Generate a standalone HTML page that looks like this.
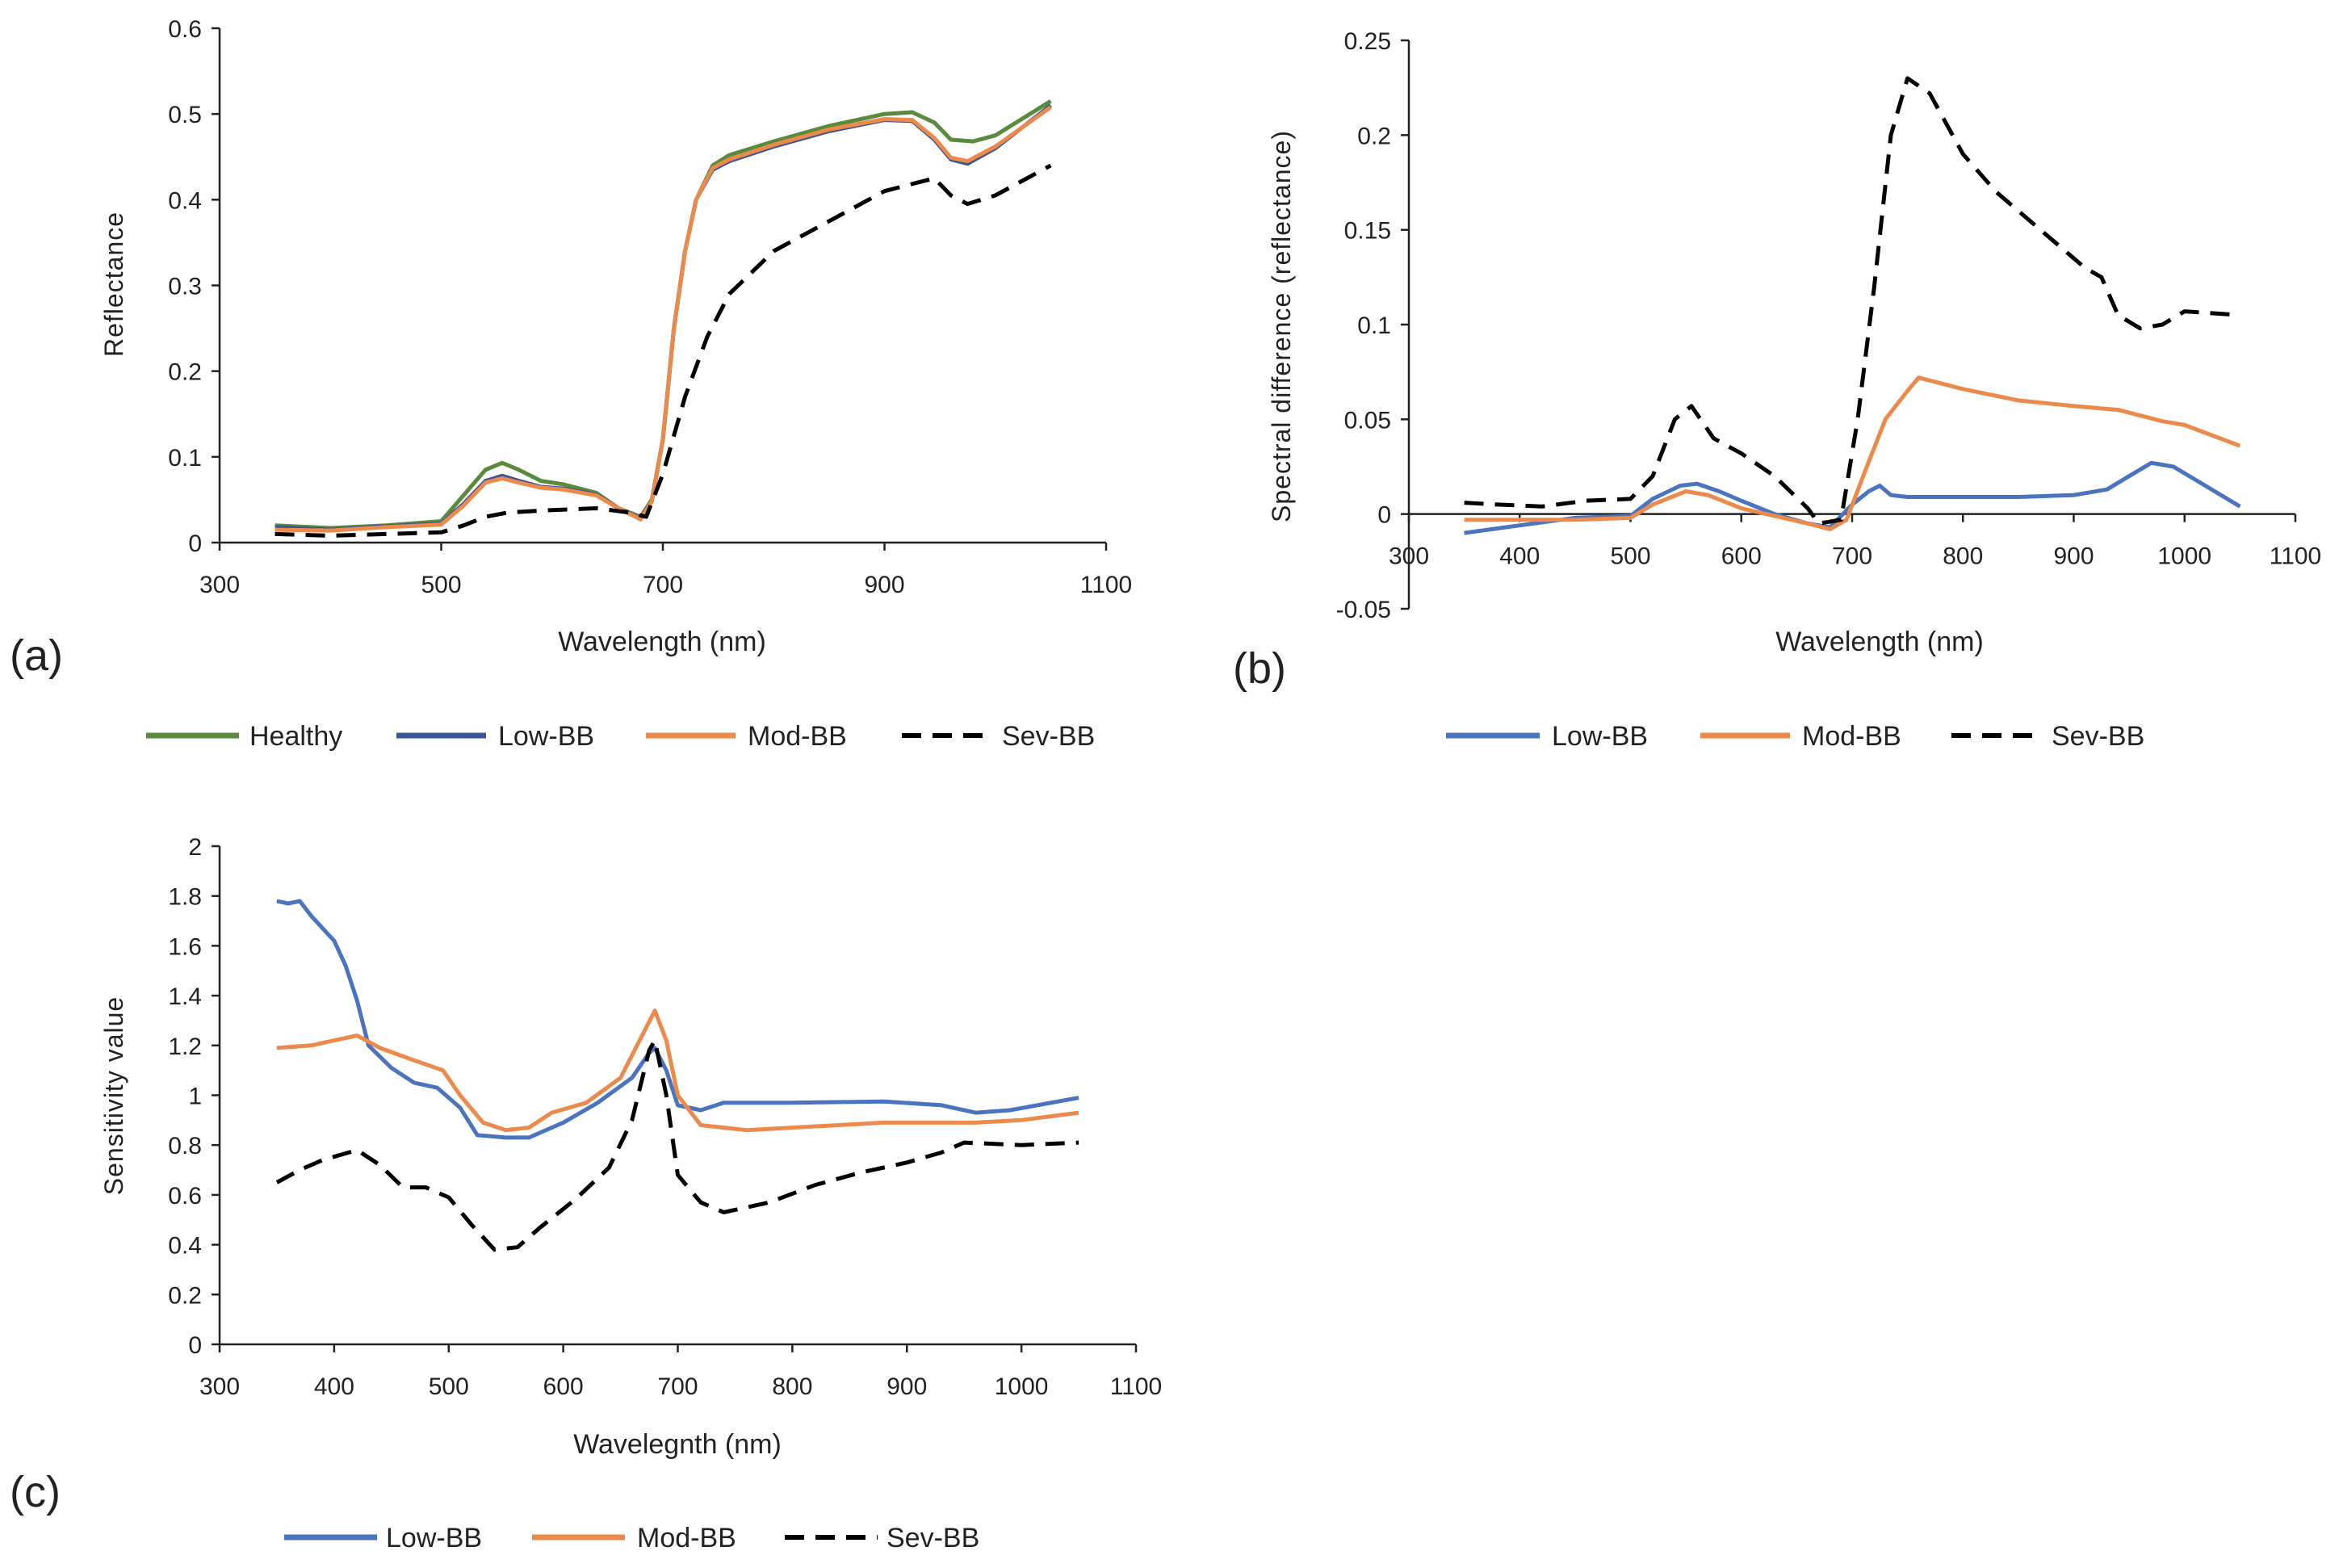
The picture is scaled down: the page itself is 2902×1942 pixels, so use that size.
<!DOCTYPE html>
<html><head><meta charset="utf-8">
<style>
html,body{margin:0;padding:0;background:#fff;}
svg{display:block;}
text{font-family:"Liberation Sans Narrow","Liberation Sans",sans-serif;fill:#222;}
</style></head>
<body>
<svg id="fig" width="2902" height="1942" viewBox="0 0 2902 1942" xmlns="http://www.w3.org/2000/svg"></svg>
<script>
// ---------- Panel (a) data ----------
const aHealthyX=[350,400,450,500,520,540,555,570,590,610,640,660,680,690,700,710,720,730,745,760,800,850,900,925,945,960,980,1000,1050];
const aHealthyY=[0.02,0.017,0.02,0.025,0.055,0.085,0.093,0.085,0.072,0.068,0.058,0.04,0.03,0.05,0.12,0.25,0.34,0.40,0.44,0.452,0.468,0.486,0.5,0.502,0.49,0.47,0.468,0.475,0.515];
const aLowX=[350,400,450,500,520,540,555,570,590,610,640,660,680,690,700,710,720,730,745,760,800,850,900,925,945,960,975,1000,1050];
const aLowY=[0.018,0.015,0.019,0.022,0.045,0.072,0.078,0.072,0.065,0.063,0.056,0.04,0.028,0.048,0.12,0.25,0.34,0.40,0.435,0.445,0.462,0.48,0.493,0.492,0.47,0.447,0.442,0.46,0.51];
const aModX=[350,400,450,500,520,540,555,570,590,610,640,660,680,690,700,710,720,730,745,760,800,850,900,925,945,960,975,1000,1050];
const aModY=[0.015,0.014,0.018,0.021,0.043,0.07,0.075,0.07,0.064,0.062,0.055,0.04,0.027,0.048,0.12,0.25,0.34,0.40,0.437,0.447,0.464,0.482,0.494,0.493,0.472,0.449,0.445,0.462,0.508];
const aSevX=[350,400,450,500,520,540,560,600,640,670,685,700,720,740,760,800,850,900,930,945,960,975,1000,1050];
const aSevY=[0.01,0.008,0.01,0.012,0.02,0.03,0.035,0.038,0.04,0.035,0.03,0.08,0.17,0.24,0.29,0.34,0.375,0.41,0.42,0.425,0.405,0.395,0.405,0.44];
const aYTicks=["0","0.1","0.2","0.3","0.4","0.5","0.6"];
const aXTicks=["300","500","700","900","1100"];

// ---------- Panel (b) data ----------
const bLowX=[350,400,450,500,520,545,560,580,600,630,660,680,700,715,725,735,750,800,850,900,930,950,970,990,1010,1050];
const bLowY=[-0.01,-0.006,-0.002,-0.001,0.008,0.015,0.016,0.012,0.007,0.0,-0.005,-0.007,0.005,0.012,0.015,0.01,0.009,0.009,0.009,0.01,0.013,0.02,0.027,0.025,0.018,0.004];
const bModX=[350,450,500,520,550,570,600,630,660,680,695,710,730,750,760,800,850,900,940,980,1000,1050];
const bModY=[-0.003,-0.003,-0.002,0.005,0.012,0.01,0.003,-0.001,-0.005,-0.008,-0.003,0.02,0.05,0.065,0.072,0.066,0.06,0.057,0.055,0.049,0.047,0.036];
const bSevX=[350,380,420,460,500,520,540,555,575,600,630,660,670,690,705,720,735,750,770,800,830,870,910,925,940,960,980,1000,1050];
const bSevY=[0.006,0.005,0.004,0.007,0.008,0.02,0.05,0.057,0.04,0.032,0.02,0.003,-0.005,-0.003,0.05,0.12,0.2,0.23,0.222,0.19,0.17,0.15,0.13,0.125,0.105,0.098,0.1,0.107,0.105];
const bYTicks=["-0.05","0","0.05","0.1","0.15","0.2","0.25"];
const bXTicks=["300","400","500","600","700","800","900","1000","1100"];

// ---------- Panel (c) data ----------
const cLowX=[350,360,370,380,390,400,410,420,430,450,470,490,510,525,550,570,600,630,660,675,680,690,700,720,740,800,880,930,960,990,1050];
const cLowY=[1.78,1.77,1.78,1.72,1.67,1.62,1.52,1.38,1.2,1.11,1.05,1.03,0.95,0.84,0.83,0.83,0.89,0.97,1.07,1.17,1.19,1.1,0.96,0.94,0.97,0.97,0.975,0.96,0.93,0.94,0.99];
const cModX=[350,380,400,420,440,470,495,510,530,550,570,590,620,650,670,680,690,700,720,760,800,880,960,1000,1050];
const cModY=[1.19,1.2,1.22,1.24,1.19,1.14,1.1,1.0,0.89,0.86,0.87,0.93,0.97,1.07,1.25,1.34,1.22,1.0,0.88,0.86,0.87,0.89,0.89,0.9,0.93];
const cSevX=[350,370,390,420,440,460,480,500,520,540,560,580,610,640,660,675,680,690,700,720,740,780,820,860,900,930,950,1000,1050];
const cSevY=[0.65,0.7,0.74,0.78,0.72,0.63,0.63,0.59,0.48,0.38,0.39,0.47,0.58,0.71,0.9,1.18,1.22,1.0,0.68,0.57,0.53,0.57,0.64,0.69,0.73,0.77,0.81,0.8,0.81];
const cYTicks=["0","0.2","0.4","0.6","0.8","1","1.2","1.4","1.6","1.8","2"];
const cXTicks=["300","400","500","600","700","800","900","1000","1100"];

const NS="http://www.w3.org/2000/svg";
const svg=document.getElementById('fig');
function mk(tag,attrs,parent){const e=document.createElementNS(NS,tag);for(const k in attrs)e.setAttribute(k,attrs[k]);(parent||svg).appendChild(e);return e;}
function txt(s,attrs,parent){const e=mk('text',attrs,parent);e.textContent=s;return e;}

function panel(cfg){
  const g=mk('g',{});
  
  
  const sx=v=>cfg.x0+(v-cfg.xmin)/(cfg.xmax-cfg.xmin)*(cfg.x1-cfg.x0);
  const sy=v=>cfg.y0-(v-cfg.ymin)/(cfg.ymax-cfg.ymin)*(cfg.y0-cfg.y1);
  const zeroY=sy(0);
  // y axis
  const ya=mk('line',{x1:cfg.x0,y1:cfg.y0,x2:cfg.x0,y2:cfg.y1,stroke:'#222','stroke-width':2.5},g);
  
  
  cfg.yTicks.forEach(t=>{
    const v=parseFloat(t),y=sy(v);
    mk('line',{x1:cfg.x0-10,y1:y,x2:cfg.x0,y2:y,stroke:'#222','stroke-width':2.5},g);
    const l=txt(t,{x:cfg.x0-22,y:y+11,'text-anchor':'end','font-size':30},g);
    
    
  });
  // x axis at zero
  const xa=mk('line',{x1:cfg.x0,y1:zeroY,x2:cfg.x1,y2:zeroY,stroke:'#222','stroke-width':2.5},g);
  
  
  cfg.xTicks.forEach(t=>{
    const v=parseFloat(t),x=sx(v);
    mk('line',{x1:x,y1:zeroY,x2:x,y2:zeroY+10,stroke:'#222','stroke-width':2.5},g);
    const l=txt(t,{x:x,y:zeroY+62,'text-anchor':'middle','font-size':30},g);
    
    
  });
  // series
  cfg.series.forEach(s=>{
    let d='';
    s.x.forEach((v,i)=>{d+=(i?'L':'M')+sx(v).toFixed(1)+','+sy(s.y[i]).toFixed(1);});
    const p=mk('path',{d:d,fill:'none',stroke:s.color,'stroke-width':5,'stroke-linejoin':'round','stroke-dasharray':s.dash?'24,14':'none'},g);
    
    
  });
  // titles
  const yt=txt(cfg.ylabel,{x:0,y:0,'text-anchor':'middle','font-size':32,transform:`translate(${cfg.ylx},${cfg.yly}) rotate(-90)`,'letter-spacing':'1'},g);
  
  
  const xt=txt(cfg.xlabel,{x:cfg.xlx,y:cfg.xly,'text-anchor':'middle','font-size':34},g);
  
  
  const pl=txt(cfg.tag,{x:cfg.tagx,y:cfg.tagy,'font-size':54,'font-family':'Liberation Sans, sans-serif'},g);
  
  
  // legend
  cfg.legend.forEach(e=>{
    const lg=mk('g',{},g);
    
    
    mk('line',{x1:e.l0,y1:cfg.legY,x2:e.l1,y2:cfg.legY,stroke:e.color,'stroke-width':e.dash?6:7,'stroke-dasharray':e.dash?'24,14':'none'},lg);
    txt(e.label,{x:e.tx,y:cfg.legY+12,'font-size':34},lg);
  });
}

const BLUE_D='#3b5697',BLUE='#4a74c0',ORANGE='#ec8a4b',GREEN='#5a8a3e',BLACK='#000';

panel({name:'panel-a-reflectance',x0:272,x1:1370,xmin:300,xmax:1100,y0:672,y1:35,ymin:0,ymax:0.6,
  yTicks:aYTicks,xTicks:aXTicks,ylabel:'Reflectance',ylx:152,yly:352,xlabel:'Wavelength (nm)',xlx:820,xly:806,
  tag:'(a)',tagx:12,tagy:830,legY:911,
  series:[{id:'line-healthy',x:aHealthyX,y:aHealthyY,color:GREEN},{id:'line-low-bb',x:aLowX,y:aLowY,color:BLUE_D},
          {id:'line-mod-bb',x:aModX,y:aModY,color:ORANGE},{id:'line-sev-bb',x:aSevX,y:aSevY,color:BLACK,dash:true}],
  legend:[{label:'Healthy',color:GREEN,l0:181,l1:296,tx:309},{label:'Low-BB',color:BLUE_D,l0:491,l1:602,tx:617},
          {label:'Mod-BB',color:ORANGE,l0:800,l1:911,tx:926},{label:'Sev-BB',color:BLACK,dash:true,l0:1117,l1:1228,tx:1241}]});

panel({name:'panel-b-spectral-difference',x0:1745,x1:2843,xmin:300,xmax:1100,y0:754,y1:50,ymin:-0.05,ymax:0.25,
  yTicks:bYTicks,xTicks:bXTicks,ylabel:'Spectral difference (reflectance)',ylx:1598,yly:404,xlabel:'Wavelength (nm)',xlx:2328,xly:806,
  tag:'(b)',tagx:1527,tagy:846,legY:911,
  series:[{id:'line-low-bb',x:bLowX,y:bLowY,color:BLUE},{id:'line-mod-bb',x:bModX,y:bModY,color:ORANGE},
          {id:'line-sev-bb',x:bSevX,y:bSevY,color:BLACK,dash:true}],
  legend:[{label:'Low-BB',color:BLUE,l0:1791,l1:1907,tx:1922},{label:'Mod-BB',color:ORANGE,l0:2106,l1:2217,tx:2232},
          {label:'Sev-BB',color:BLACK,dash:true,l0:2417,l1:2528,tx:2541}]});

panel({name:'panel-c-sensitivity',x0:272,x1:1407,xmin:300,xmax:1100,y0:1665,y1:1048,ymin:0,ymax:2,
  yTicks:cYTicks,xTicks:cXTicks,ylabel:'Sensitivity value',ylx:152,yly:1357,xlabel:'Wavelegnth (nm)',xlx:839,xly:1800,
  tag:'(c)',tagx:12,tagy:1866,legY:1904,
  series:[{id:'line-low-bb',x:cLowX,y:cLowY,color:BLUE},{id:'line-mod-bb',x:cModX,y:cModY,color:ORANGE},
          {id:'line-sev-bb',x:cSevX,y:cSevY,color:BLACK,dash:true}],
  legend:[{label:'Low-BB',color:BLUE,l0:352,l1:467,tx:478},{label:'Mod-BB',color:ORANGE,l0:659,l1:774,tx:789},
          {label:'Sev-BB',color:BLACK,dash:true,l0:972,l1:1087,tx:1098}]});
</script>
</body></html>
